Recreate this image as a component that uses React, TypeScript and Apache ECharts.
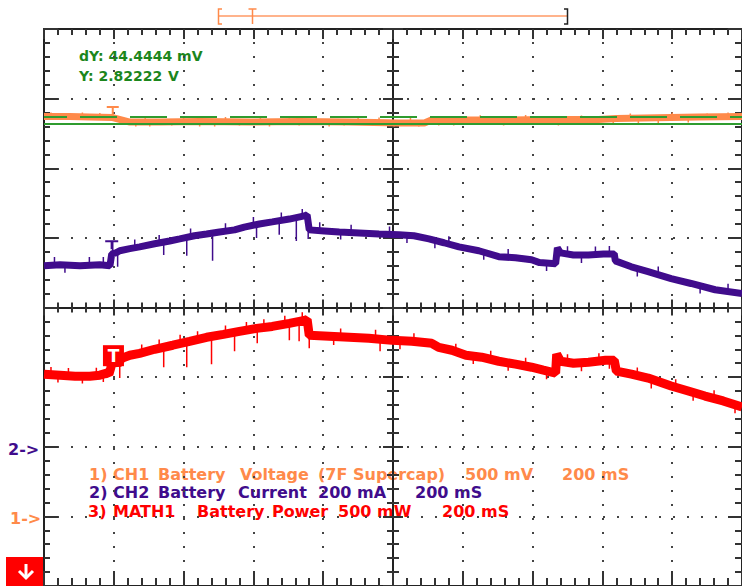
import React, { useEffect, useRef } from "react";
import * as echarts from "echarts";

// ---------- data (time in ms, 200 ms / div) ----------
const timeRange = [0, 2000];
const timeStep = 200;

// CH1 battery voltage, mV (500 mV/div)
const ch1Trace: [number, number][] = [
  [0, 2871], [74, 2871], [131, 2868], [197, 2864], [246, 2832], [331, 2832],
  [446, 2836], [589, 2832], [731, 2836], [874, 2832], [1017, 2825], [1090, 2825],
  [1110, 2846], [1303, 2846], [1446, 2850], [1589, 2850], [1640, 2857],
  [1874, 2868], [2000, 2871],
];
// noise spikes: [time, from, to]
const ch1Spikes: [number, number, number][] = [
  [20, 2871, 2900], [110, 2870, 2900], [160, 2866, 2896],
  [263, 2832, 2800], [290, 2832, 2871], [303, 2832, 2800], [366, 2832, 2807],
  [400, 2836, 2871], [446, 2836, 2800], [489, 2836, 2800], [520, 2832, 2868],
  [560, 2832, 2807], [620, 2832, 2868], [646, 2832, 2800], [703, 2836, 2871],
  [731, 2836, 2807], [780, 2834, 2870], [817, 2832, 2800], [860, 2832, 2807],
  [900, 2832, 2868], [960, 2830, 2864], [1003, 2825, 2800], [1050, 2825, 2860],
  [1074, 2825, 2800], [1131, 2846, 2807], [1174, 2846, 2807], [1217, 2846, 2814],
  [1250, 2846, 2880], [1317, 2846, 2807], [1380, 2848, 2882], [1417, 2850, 2814],
  [1474, 2850, 2807], [1540, 2850, 2878], [1560, 2850, 2814], [1631, 2853, 2814],
  [1680, 2860, 2893], [1703, 2857, 2821], [1760, 2860, 2821], [1800, 2865, 2900],
  [1846, 2864, 2828], [1900, 2868, 2893], [1960, 2870, 2900],
];
const ch1CursorsMv = [2866.67, 2822.22];
const ch1TriggerMv = 2914;

// CH2 battery current, mA (200 mA/div)
const ch2Trace: [number, number][] = [
  [0, 520], [46, 523], [103, 520], [160, 523], [189, 520], [194, 554], [206, 557],
  [217, 563], [246, 569], [274, 574], [317, 583], [360, 591], [389, 597],
  [431, 606], [466, 611], [503, 617], [546, 623], [574, 631], [617, 640],
  [654, 646], [703, 654], [746, 663], [754, 666], [760, 623], [803, 620],
  [846, 617], [903, 614], [960, 611], [1017, 609], [1060, 606], [1103, 597],
  [1146, 586], [1189, 574], [1246, 563], [1303, 546], [1351, 543], [1397, 537],
  [1420, 529], [1466, 526], [1471, 571], [1480, 557], [1517, 551], [1560, 551],
  [1603, 554], [1634, 554], [1637, 534], [1683, 517], [1731, 503], [1797, 483],
  [1854, 469], [1923, 451], [2000, 440],
];
const ch2Spikes: [number, number, number][] = [
  [30, 521, 545], [60, 521, 500], [130, 521, 545], [170, 521, 545],
  [197, 557, 591], [211, 554, 517], [260, 572, 595], [330, 585, 608],
  [343, 586, 551], [409, 603, 549], [420, 604, 627], [483, 617, 534],
  [520, 619, 642], [600, 637, 660], [609, 637, 600], [674, 649, 609],
  [680, 650, 673], [723, 657, 591], [740, 660, 683], [757, 649, 597],
  [790, 622, 645], [850, 617, 595], [880, 615, 638], [990, 610, 633],
  [1040, 607, 585], [1120, 593, 570], [1160, 583, 605], [1260, 560, 537],
  [1330, 545, 568], [1440, 528, 505], [1500, 553, 576], [1540, 551, 528],
  [1580, 552, 575], [1620, 554, 577], [1700, 512, 489], [1760, 495, 518],
  [1880, 462, 440], [1960, 446, 468],
];
const ch2TriggerMa = 580;

// MATH1 battery power, mW (500 mW/div)
const mathTrace: [number, number][] = [
  [0, 1521], [46, 1514], [89, 1507], [131, 1507], [160, 1514], [180, 1529],
  [186, 1521], [191, 1564], [197, 1621], [206, 1607], [211, 1593], [223, 1636],
  [246, 1657], [274, 1671], [317, 1700], [369, 1729], [417, 1757], [466, 1786],
  [514, 1807], [560, 1829], [609, 1850], [654, 1864], [703, 1886], [746, 1907],
  [754, 1914], [760, 1800], [817, 1793], [874, 1786], [931, 1779], [997, 1764],
  [1054, 1757], [1111, 1743], [1131, 1714], [1169, 1693], [1209, 1657],
  [1254, 1643], [1303, 1614], [1351, 1593], [1397, 1571], [1431, 1550],
  [1466, 1529], [1469, 1664], [1480, 1614], [1517, 1600], [1560, 1607],
  [1609, 1621], [1634, 1621], [1640, 1543], [1683, 1521], [1731, 1493],
  [1797, 1436], [1846, 1400], [1894, 1364], [1946, 1329], [2000, 1286],
];
const mathSpikes: [number, number, number][] = [
  [20, 1518, 1572], [40, 1516, 1462], [70, 1510, 1566], [110, 1507, 1455],
  [150, 1512, 1568], [170, 1520, 1465],
  [217, 1636, 1493], [280, 1672, 1735], [330, 1705, 1770], [343, 1714, 1571],
  [390, 1745, 1805], [409, 1750, 1571], [440, 1770, 1830], [480, 1793, 1593],
  [520, 1810, 1870], [546, 1821, 1686], [580, 1835, 1895], [611, 1850, 1743],
  [630, 1855, 1915], [690, 1880, 1940], [703, 1886, 1764], [731, 1893, 1757],
  [740, 1905, 1965], [760, 1800, 1707], [830, 1792, 1730], [850, 1790, 1850],
  [950, 1780, 1840], [963, 1764, 1686], [1020, 1762, 1700], [1060, 1755, 1815],
  [1180, 1680, 1740], [1230, 1655, 1595], [1280, 1630, 1690], [1330, 1605, 1545],
  [1380, 1580, 1640], [1440, 1545, 1485], [1500, 1605, 1665], [1540, 1603, 1543],
  [1590, 1612, 1672], [1620, 1621, 1560], [1700, 1510, 1570], [1740, 1478, 1418],
  [1810, 1425, 1485], [1860, 1390, 1330], [1920, 1345, 1405], [1980, 1300, 1240],
];
const mathTrigger: [number, number] = [199, 1654];

// texts
const cursorDy = "dY: 44.4444 mV";
const cursorY = ["Y: 2.82222", "V"];
const ch1Label = ["1)", "CH1", "Battery", "Voltage", "(7F", "Supercap)", "500 mV", "200 mS"];
const ch2Label = ["2)", "CH2", "Battery", "Current", "200 mA", "200 mS"];
const mathLabel = ["3)", "MATH1", "Battery", "Power", "500 mW", "200 mS"];
const refMarkers = ["2->", "1->"];

// ---------- layout / style (not data) ----------
const ch1LabelX = [89, 113, 158, 240, 318, 353, 465, 562];
const ch2LabelX = [89, 113, 158, 238, 318, 415];
const mathLabelX = [88, 113, 197, 272, 338, 442];
const C_ORANGE = "#ff8a4a";
const C_PURPLE = "#400c8c";
const C_RED = "#ff0000";
const C_GREEN = "#1c861c";
const C_GREEN_LINE = "#2f9c2f";
const TICK = { color: "#333", width: 2 };
const FONT = '"DejaVu Sans", sans-serif';

const spikeData = (sp: [number, number, number][]) =>
  sp.flatMap(([t, a, b]) => [[t, a], [t, b], [t, "-"]]);

function frameX(position: string, len: number, minorLen: number, extra: any = {}) {
  return {
    type: "value", min: timeRange[0], max: timeRange[1], interval: timeStep,
    position,
    axisLine: { show: true, onZero: false, lineStyle: { color: "#222", width: 2 } },
    axisTick: { show: true, inside: true, length: len, lineStyle: TICK },
    minorTick: { show: true, splitNumber: 5, length: minorLen, lineStyle: TICK },
    axisLabel: { show: false },
    splitLine: { show: false },
    ...extra,
  };
}
function frameY(position: string, len: number, minorLen: number, extra: any = {}) {
  return {
    type: "value", min: -4, max: 4, interval: 1,
    position,
    axisLine: { show: true, onZero: false, lineStyle: { color: "#222", width: 2 } },
    axisTick: { show: true, inside: true, length: len, lineStyle: TICK },
    minorTick: { show: true, splitNumber: 5, length: minorLen, lineStyle: TICK },
    axisLabel: { show: false },
    splitLine: { show: false },
    ...extra,
  };
}
const dotted = { show: true, lineStyle: { color: "#444", width: 2, type: [2, 12], dashOffset: 1 } };

function textEl(text: string, x: number, y: number, fill: string, size: number) {
  return {
    type: "text", x, y, silent: true,
    style: { text, fill, font: `bold ${size}px ${FONT}`, align: "left", verticalAlign: "middle" },
  };
}

export default function App() {
  const ref = useRef<HTMLDivElement>(null);
  useEffect(() => {
    document.body.style.margin = "0";
    const chart = echarts.init(ref.current!, undefined, { renderer: "svg" });
    const tSym = "path://M0,0H12V2H7V9H5V2H0Z";
    const graphics: any[] = [
      // record overview bracket
      { type: "line", shape: { x1: 219, y1: 16, x2: 567, y2: 16 }, style: { stroke: "#ff9a66", lineWidth: 1.5 } },
      { type: "polyline", shape: { points: [[222, 9], [218.5, 9], [218.5, 24], [222, 24]] }, style: { stroke: C_ORANGE, lineWidth: 1.5, fill: null } },
      { type: "polyline", shape: { points: [[564, 9], [567.5, 9], [567.5, 24], [564, 24]] }, style: { stroke: "#222", lineWidth: 1.5, fill: null } },
      { type: "line", shape: { x1: 248.5, y1: 9, x2: 256.5, y2: 9 }, style: { stroke: C_ORANGE, lineWidth: 1.5 } },
      { type: "line", shape: { x1: 252.5, y1: 9, x2: 252.5, y2: 24 }, style: { stroke: C_ORANGE, lineWidth: 1.5 } },
      // cursor readout
      textEl(cursorDy, 79, 56, C_GREEN, 14),
      textEl(cursorY[0], 79, 76, C_GREEN, 14),
      textEl(cursorY[1], 168, 76, C_GREEN, 14),
      // reference markers
      textEl(refMarkers[0], 8, 449, C_PURPLE, 16),
      textEl(refMarkers[1], 10, 518, C_ORANGE, 16),
      // math off-screen marker
      { type: "rect", shape: { x: 6, y: 557, width: 38, height: 30 }, style: { fill: C_RED } },
      { type: "line", shape: { x1: 26, y1: 564, x2: 26, y2: 578 }, style: { stroke: "#fff", lineWidth: 3 } },
      { type: "polyline", shape: { points: [[19, 571], [26, 578], [33, 571]] }, style: { stroke: "#fff", lineWidth: 3, fill: null } },
    ];
    ch1Label.forEach((w, i) => graphics.push(textEl(w, ch1LabelX[i], 474, C_ORANGE, 16)));
    ch2Label.forEach((w, i) => graphics.push(textEl(w, ch2LabelX[i], 492, C_PURPLE, 16)));
    mathLabel.forEach((w, i) => graphics.push(textEl(w, mathLabelX[i], 511, C_RED, 16)));

    const lineBase = { type: "line", showSymbol: false, symbol: "none", silent: true, xAxisIndex: 0, connectNulls: false };

    chart.setOption({
      animation: false,
      backgroundColor: "#ffffff",
      grid: { left: 44, top: 29, width: 700, height: 560, containLabel: false },
      xAxis: [
        frameX("bottom", 15, 8, { splitLine: dotted }),
        frameX("top", 10, 6),
        frameX("bottom", 8, 5, { axisLine: { show: true, onZero: true, onZeroAxisIndex: 0, lineStyle: { color: "#222", width: 2 } } }),
        frameX("top", 8, 5, { axisLine: { show: true, onZero: true, onZeroAxisIndex: 0, lineStyle: { color: "#222", width: 2 } } }),
        { type: "value", min: -1000, max: 1000, show: false, axisLine: { onZero: false } },
      ],
      yAxis: [
        frameY("left", 14, 6, { splitLine: dotted }),
        frameY("right", 14, 7),
        frameY("left", 10, 6, { axisLine: { show: true, onZero: true, onZeroAxisIndex: 4, lineStyle: { color: "#222", width: 2 } } }),
        frameY("right", 10, 6, { axisLine: { show: true, onZero: true, onZeroAxisIndex: 4, lineStyle: { color: "#222", width: 2 } } }),
        { type: "value", min: -500, max: 3500, show: false, axisLine: { onZero: false } },
        { type: "value", min: -400, max: 1200, show: false, axisLine: { onZero: false } },
        { type: "value", min: 0, max: 4000, show: false, axisLine: { onZero: false } },
      ],
      series: [
        {
          ...lineBase, name: "CH1", yAxisIndex: 4, data: ch1Trace,
          lineStyle: { color: C_ORANGE, width: 7, join: "bevel", cap: "butt" }, z: 3,
          markLine: {
            silent: true, symbol: ["none", "none"], label: { show: false }, z: 6,
            data: [
              { yAxis: ch1CursorsMv[0], lineStyle: { color: C_GREEN_LINE, width: 2, type: [37, 13], dashOffset: 14 } },
              { yAxis: ch1CursorsMv[1], lineStyle: { color: C_GREEN_LINE, width: 2, type: "solid" } },
            ],
          },
          markPoint: {
            silent: true, z: 6,
            data: [{ coord: [197, ch1TriggerMv], symbol: tSym, symbolSize: [12, 9], itemStyle: { color: C_ORANGE }, label: { show: false } }],
          },
        },
        { ...lineBase, name: "CH1 spikes", yAxisIndex: 4, data: spikeData(ch1Spikes), lineStyle: { color: C_ORANGE, width: 1.5 }, z: 3 },
        {
          ...lineBase, name: "CH2", yAxisIndex: 5, data: ch2Trace,
          lineStyle: { color: C_PURPLE, width: 7, join: "bevel", cap: "butt" }, z: 3,
          markPoint: {
            silent: true, z: 6,
            data: [{ coord: [194, ch2TriggerMa], symbol: tSym, symbolSize: [13, 9], itemStyle: { color: C_PURPLE }, label: { show: false } }],
          },
        },
        { ...lineBase, name: "CH2 spikes", yAxisIndex: 5, data: spikeData(ch2Spikes), lineStyle: { color: C_PURPLE, width: 1.5 }, z: 3 },
        {
          ...lineBase, name: "MATH1", yAxisIndex: 6, data: mathTrace,
          lineStyle: { color: C_RED, width: 9, join: "bevel", cap: "butt" }, z: 3,
          markPoint: {
            silent: true, z: 6,
            data: [{
              coord: mathTrigger, symbol: "rect", symbolSize: 21, itemStyle: { color: C_RED },
              label: { show: true, position: "inside", formatter: "T", color: "#fff", fontWeight: "bold", fontSize: 17, fontFamily: FONT },
            }],
          },
        },
        { ...lineBase, name: "MATH1 spikes", yAxisIndex: 6, data: spikeData(mathSpikes), lineStyle: { color: C_RED, width: 1.5 }, z: 3 },
      ],
      graphic: graphics,
    });
    return () => chart.dispose();
  }, []);
  return <div ref={ref} style={{ width: 742, height: 586 }} />;
}
